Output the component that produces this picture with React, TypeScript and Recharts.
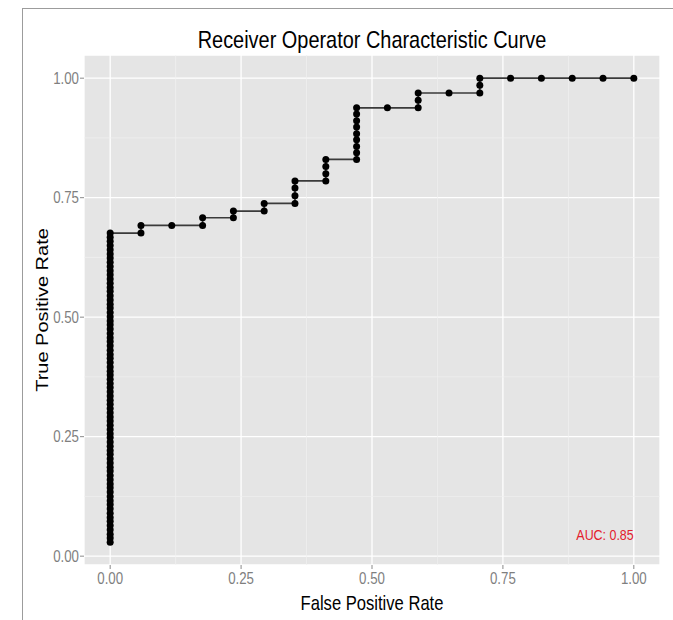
import React from 'react';
import {
  LineChart,
  Line,
  XAxis,
  YAxis,
  CartesianGrid,
  ReferenceLine,
  ReferenceDot,
} from 'recharts';

// false positive rate at each threshold step (k / 17 negatives)
const stepFpr = [
  0, 0.0588, 0.1176, 0.1765, 0.2353, 0.2941, 0.3529, 0.4118, 0.4706,
  0.5294, 0.5882, 0.6471, 0.7059, 0.7647, 0.8235, 0.8824, 0.9412, 1,
];

// true positive rates hit while FPR is still zero
const zeroFprTpr = [
  0.029, 0.038, 0.046, 0.055, 0.064, 0.073, 0.081, 0.09, 0.099, 0.108,
  0.116, 0.125, 0.134, 0.143, 0.151, 0.16, 0.169, 0.178, 0.186, 0.195,
  0.204, 0.213, 0.221, 0.23, 0.239, 0.248, 0.256, 0.265, 0.274, 0.283,
  0.291, 0.3, 0.309, 0.318, 0.326, 0.335, 0.344, 0.353, 0.361, 0.37,
  0.379, 0.387, 0.396, 0.405, 0.414, 0.422, 0.431, 0.44, 0.449, 0.457,
  0.466, 0.475, 0.484, 0.492, 0.501, 0.51, 0.519, 0.527, 0.536, 0.545,
  0.554, 0.562, 0.571, 0.58, 0.589, 0.597, 0.606, 0.615, 0.624, 0.632,
  0.641, 0.65, 0.659, 0.667, 0.676,
];

// true positive rates for the remaining FPR steps
const stepTpr = [
  zeroFprTpr,
  [0.676, 0.692],
  [0.692],
  [0.692, 0.708],
  [0.708, 0.722],
  [0.722, 0.738],
  [0.738, 0.754, 0.77, 0.785],
  [0.785, 0.8, 0.815, 0.83],
  [0.83, 0.844, 0.857, 0.871, 0.884, 0.898, 0.911, 0.925, 0.938],
  [0.938],
  [0.938, 0.954, 0.969],
  [0.969],
  [0.969, 0.985, 1],
  [1],
  [1],
  [1],
  [1],
  [1],
];

const axisTicks = [0, 0.25, 0.5, 0.75, 1];
const minorBreaks = [0.125, 0.375, 0.625, 0.875];
const aucLabel = 'AUC: 0.85';

const FONT = '"Liberation Sans", Arial, Helvetica, sans-serif';
const SQUEEZE = 0.83;

const rocData = stepFpr.flatMap((fpr, i) =>
  stepTpr[i].map((tpr) => ({ fpr, tpr }))
);

const XTick = (props: any) => {
  const { x, y, payload } = props;
  return (
    <text
      transform={`translate(${x},${y + 13}) scale(${SQUEEZE},1)`}
      textAnchor="middle"
      fill="#7f7f7f"
      fontSize={16}
      fontFamily={FONT}
    >
      {Number(payload.value).toFixed(2)}
    </text>
  );
};

const YTick = (props: any) => {
  const { x, y, payload } = props;
  return (
    <text
      transform={`translate(${x + 1},${y + 5.5}) scale(${SQUEEZE},1)`}
      textAnchor="end"
      fill="#7f7f7f"
      fontSize={16}
      fontFamily={FONT}
    >
      {Number(payload.value).toFixed(2)}
    </text>
  );
};

const AucLabel = (props: any) => {
  const { viewBox } = props;
  const cx = viewBox.x + viewBox.width / 2;
  const cy = viewBox.y + viewBox.height / 2;
  return (
    <text
      transform={`translate(${cx},${cy + 5}) scale(${SQUEEZE},1)`}
      textAnchor="middle"
      fill="#e3202c"
      fontSize={15}
      fontFamily={FONT}
    >
      {aucLabel}
    </text>
  );
};

export default function App() {
  return (
    <div
      style={{
        position: 'absolute',
        left: 0,
        top: 0,
        width: 673,
        height: 620,
        background: '#fff',
        overflow: 'hidden',
      }}
    >
      <div
        style={{
          position: 'absolute',
          left: 22,
          top: 8,
          width: 651,
          height: 612,
          boxSizing: 'border-box',
          borderTop: '1.5px solid #9c9c9c',
          borderLeft: '1.5px solid #9c9c9c',
        }}
      />
      <div style={{ position: 'absolute', left: 0, top: 0 }}>
        <LineChart
          width={673}
          height={620}
          data={rocData}
          margin={{ top: 55, right: 13, bottom: 0, left: 0 }}
        >
          <CartesianGrid
            fill="#e5e5e5"
            fillOpacity={1}
            stroke="#ffffff"
            strokeWidth={1.3}
          />
          {minorBreaks.map((v) => (
            <ReferenceLine key={`mx${v}`} x={v} stroke="#f1f1f1" strokeWidth={0.7} />
          ))}
          {minorBreaks.map((v) => (
            <ReferenceLine key={`my${v}`} y={v} stroke="#f1f1f1" strokeWidth={0.7} />
          ))}
          <XAxis
            dataKey="fpr"
            type="number"
            domain={[-0.05, 1.05]}
            ticks={axisTicks}
            allowDataOverflow
            height={55}
            axisLine={false}
            tickSize={4}
            tickMargin={2}
            tickLine={{ stroke: '#8a8a8a', strokeWidth: 1 }}
            tick={<XTick />}
            interval={0}
          />
          <YAxis
            type="number"
            domain={[-0.0185, 1.0485]}
            ticks={axisTicks}
            allowDataOverflow
            width={84}
            axisLine={false}
            tickSize={4}
            tickMargin={2}
            tickLine={{ stroke: '#8a8a8a', strokeWidth: 1 }}
            tick={<YTick />}
            interval={0}
          />
          <Line
            type="linear"
            dataKey="tpr"
            stroke="#3a3a3a"
            strokeWidth={1.7}
            dot={{ r: 3.5, fill: '#000', stroke: 'none' }}
            activeDot={false}
            isAnimationActive={false}
          />
          <ReferenceDot
            x={0.945}
            y={0.044}
            r={1}
            fill="none"
            stroke="none"
            label={<AucLabel />}
          />
        </LineChart>
      </div>
      <svg
        width={673}
        height={620}
        style={{ position: 'absolute', left: 0, top: 0, pointerEvents: 'none' }}
      >
        <text
          transform={`translate(372,48) scale(${SQUEEZE},1)`}
          textAnchor="middle"
          fontSize={24}
          fontFamily={FONT}
          fill="#000"
        >
          Receiver Operator Characteristic Curve
        </text>
        <text
          transform={`translate(372,610) scale(${SQUEEZE},1)`}
          textAnchor="middle"
          fontSize={20}
          fontFamily={FONT}
          fill="#000"
        >
          False Positive Rate
        </text>
        <text
          transform={`translate(48,310) scale(${SQUEEZE},1) rotate(-90)`}
          textAnchor="middle"
          fontSize={20}
          fontFamily={FONT}
          fill="#000"
        >
          True Positive Rate
        </text>
      </svg>
    </div>
  );
}
